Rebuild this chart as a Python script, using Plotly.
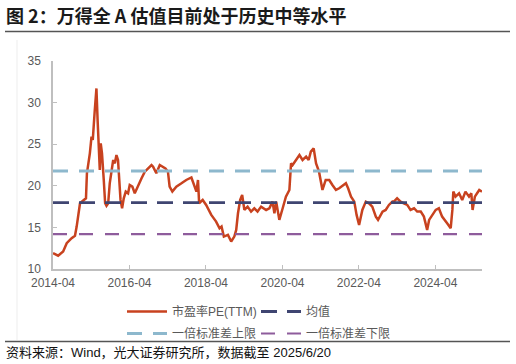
import plotly.graph_objects as go

# ---- data ----
dates = [
    "2014-04-01", "2014-05-20", "2014-07-07", "2014-08-10", "2014-09-26", "2014-10-28",
    "2014-11-13", "2014-12-01", "2014-12-15", "2015-01-12", "2015-02-10", "2015-02-19",
    "2015-03-19", "2015-04-04", "2015-04-16", "2015-05-04", "2015-05-21", "2015-06-01",
    "2015-06-13", "2015-06-22", "2015-07-01", "2015-07-13", "2015-07-30", "2015-08-12",
    "2015-08-25", "2015-09-10", "2015-09-25", "2015-10-12", "2015-10-28", "2015-11-13",
    "2015-11-28", "2015-12-13", "2015-12-22", "2016-01-06", "2016-01-21", "2016-02-06",
    "2016-02-25", "2016-03-18", "2016-04-03", "2016-04-28", "2016-05-21", "2016-06-22",
    "2016-07-25", "2016-08-25", "2016-09-25", "2016-10-28", "2016-11-12", "2016-12-13",
    "2017-01-15", "2017-02-15", "2017-03-10", "2017-04-03", "2017-04-19", "2017-05-15",
    "2017-06-22", "2017-08-10", "2017-09-25", "2017-11-13", "2017-12-13", "2017-12-31",
    "2018-01-15", "2018-01-26", "2018-03-01", "2018-04-03", "2018-05-22", "2018-07-07",
    "2018-08-09", "2018-08-28", "2018-09-19", "2018-10-28", "2018-11-28", "2018-12-28",
    "2019-01-15", "2019-02-01", "2019-02-22", "2019-03-13", "2019-04-03", "2019-05-04",
    "2019-06-06", "2019-07-07", "2019-08-07", "2019-09-10", "2019-10-28", "2019-11-28",
    "2019-12-28", "2020-01-15", "2020-02-01", "2020-03-02", "2020-04-03", "2020-05-04",
    "2020-06-06", "2020-06-22", "2020-07-07", "2020-08-10", "2020-09-10", "2020-10-10",
    "2020-11-13", "2020-12-07", "2020-12-28", "2021-01-24", "2021-02-16", "2021-03-16",
    "2021-04-18", "2021-05-19", "2021-06-22", "2021-07-22", "2021-08-25", "2021-09-25",
    "2021-10-25", "2021-11-28", "2021-12-19", "2022-01-16", "2022-02-16", "2022-03-10",
    "2022-04-03", "2022-05-04", "2022-06-06", "2022-07-07", "2022-08-07", "2022-09-10",
    "2022-10-01", "2022-11-13", "2022-12-13", "2023-01-13", "2023-02-16", "2023-03-01",
    "2023-04-01", "2023-05-04", "2023-06-04", "2023-07-07", "2023-08-07", "2023-09-10",
    "2023-10-10", "2023-11-13", "2023-12-13", "2024-01-13", "2024-02-01", "2024-03-01",
    "2024-04-04", "2024-05-04", "2024-06-04", "2024-07-22", "2024-08-25", "2024-09-10",
    "2024-09-19", "2024-10-10", "2024-11-13", "2024-12-13", "2025-01-13", "2025-02-16",
    "2025-03-10", "2025-03-22", "2025-04-13", "2025-05-04", "2025-05-25", "2025-06-20",
]
pe_ttm = [
    11.9, 11.6, 12.1, 13.1, 13.7, 14.0,
    15.1, 16.7, 17.9, 18.2, 18.5, 21.5,
    23.9, 25.9, 25.5, 28.9, 31.7, 27.9,
    24.7, 21.9, 25.1, 23.9, 20.7, 17.9,
    17.6, 17.9, 20.3, 22.1, 23.1, 22.7,
    23.7, 23.1, 20.7, 18.3, 17.3, 18.5,
    19.3, 19.1, 20.1, 19.9, 19.1, 20.1,
    20.9, 21.7, 22.1, 22.5, 22.3, 21.5,
    22.5, 22.3, 22.1, 21.7, 19.9, 19.3,
    19.9, 20.3, 20.7, 21.0, 19.9, 19.3,
    20.7, 17.9, 18.3, 17.7, 16.5, 15.7,
    14.9, 15.1, 13.9, 14.1, 13.3, 13.9,
    14.7, 16.7, 18.3, 18.9, 17.1, 17.5,
    16.9, 17.3, 16.9, 17.5, 17.1, 17.3,
    18.1, 16.7, 18.1, 15.9, 17.3, 18.7,
    19.5, 22.7, 22.5, 23.1, 23.7, 23.1,
    23.5, 23.1, 24.1, 24.5, 22.7, 21.7,
    19.5, 20.7, 20.7, 20.1, 19.5, 19.7,
    20.0, 20.3, 19.7, 18.7, 18.1, 16.5,
    15.3, 17.1, 18.1, 17.9, 17.5, 16.3,
    15.9, 16.9, 17.1, 17.7, 18.1, 18.1,
    18.5, 18.1, 17.9, 17.7, 17.1, 17.3,
    16.9, 16.9, 16.3, 14.7, 15.9, 16.5,
    17.1, 17.3, 16.3, 15.5, 14.9, 17.1,
    19.3, 18.7, 19.1, 18.3, 19.3, 18.7,
    19.1, 17.1, 18.7, 19.1, 19.5, 19.3,
]
span = ["2014-04-01", "2025-06-20"]
mean_value = 17.97
upper_value = 21.78
lower_value = 14.20

series_names = ["市盈率PE(TTM)", "均值", "一倍标准差上限", "一倍标准差下限"]
x_ticks = ["2014-04-01", "2016-04-01", "2018-04-01", "2020-04-01", "2022-04-01", "2024-04-01"]
x_tick_labels = ["2014-04", "2016-04", "2018-04", "2020-04", "2022-04", "2024-04"]
y_ticks = [10, 15, 20, 25, 30, 35]

title_text = "图 2：万得全 A 估值目前处于历史中等水平"
source_text = "资料来源：Wind，光大证券研究所，数据截至 2025/6/20"

FONT = "Liberation Sans, Arial, Noto Sans CJK SC, sans-serif"
GRAY = "#595959"
PW, PH = 429, 208   # plot area size in px
L0 = 53             # plot area left edge in px

fig = go.Figure()
fig.add_trace(go.Scatter(x=dates, y=pe_ttm, mode="lines", name=series_names[0],
                         line=dict(color="#C8421F", width=2.5), legend="legend"))
fig.add_trace(go.Scatter(x=span, y=[mean_value, mean_value], mode="lines", name=series_names[1],
                         line=dict(color="#3F4571", width=2.8, dash="16px,10px"), legend="legend2"))
fig.add_trace(go.Scatter(x=span, y=[upper_value, upper_value], mode="lines", name=series_names[2],
                         line=dict(color="#8DB8CD", width=2.8, dash="15px,11px"), legend="legend3"))
fig.add_trace(go.Scatter(x=span, y=[lower_value, lower_value], mode="lines", name=series_names[3],
                         line=dict(color="#8E5C9C", width=2.2, dash="14px,12px"), legend="legend4"))


def legend_box(px, py):
    return dict(orientation="h", x=(px - L0) / PW, xanchor="left", y=-(py - 269) / PH, yanchor="top",
                font=dict(size=12, color=GRAY), bgcolor="rgba(0,0,0,0)", itemwidth=40)


fig.update_layout(
    width=516, height=364,
    margin=dict(l=53, r=34, t=61, b=95, autoexpand=False),
    paper_bgcolor="white", plot_bgcolor="white",
    font=dict(family=FONT, size=12, color=GRAY),
    showlegend=True,
    legend=legend_box(122, 297),
    legend2=legend_box(256, 297),
    legend3=legend_box(122, 319),
    legend4=legend_box(256, 319),
    xaxis=dict(type="date", range=span, tickvals=x_ticks, ticktext=x_tick_labels,
               showgrid=False, zeroline=False, showline=True, linecolor="#BFBFBF", linewidth=1.5,
               ticks="inside", ticklen=4, tickcolor="#BFBFBF", ticklabelstandoff=2,
               tickfont=dict(size=12, color=GRAY, family=FONT)),
    yaxis=dict(range=[10, 35], tickvals=y_ticks, showgrid=False, zeroline=False,
               showline=True, linecolor="#BFBFBF", linewidth=1.5,
               ticks="inside", ticklen=4, tickcolor="#BFBFBF", ticklabelstandoff=8,
               tickfont=dict(size=12, color=GRAY, family=FONT)),
    annotations=[
        dict(text="<b>" + title_text + "</b>", xref="paper", yref="paper",
             x=-49 / PW, y=1 + (61 - 15) / PH, xanchor="left", yanchor="middle",
             showarrow=False, font=dict(size=18, color="#1a1a1a", family="Noto Sans CJK SC, Liberation Sans")),
        dict(text=source_text, xref="paper", yref="paper",
             x=-49 / PW, y=-(352 - 269) / PH, xanchor="left", yanchor="middle",
             showarrow=False, font=dict(size=13, color="#111111", family="Liberation Sans, Noto Sans CJK SC")),
    ],
    shapes=[
        dict(type="line", xref="paper", yref="paper", x0=-48 / PW, x1=1 + 28 / PW,
             y0=1 + (61 - 31.5) / PH, y1=1 + (61 - 31.5) / PH, line=dict(color="#555555", width=1.5)),
        dict(type="line", xref="paper", yref="paper", x0=-48 / PW, x1=1 + 28 / PW,
             y0=-(341.5 - 269) / PH, y1=-(341.5 - 269) / PH, line=dict(color="#555555", width=1.5)),
        dict(type="line", xref="paper", yref="paper", x0=-36 / PW, x1=-36 / PW,
             y0=1 + (61 - 40) / PH, y1=-(340 - 269) / PH, line=dict(color="#EDEDED", width=1)),
    ],
)

fig.write_html("out.html", config={"displayModeBar": False},
               post_script="document.body.style.margin='0';document.body.style.overflow='hidden';")
